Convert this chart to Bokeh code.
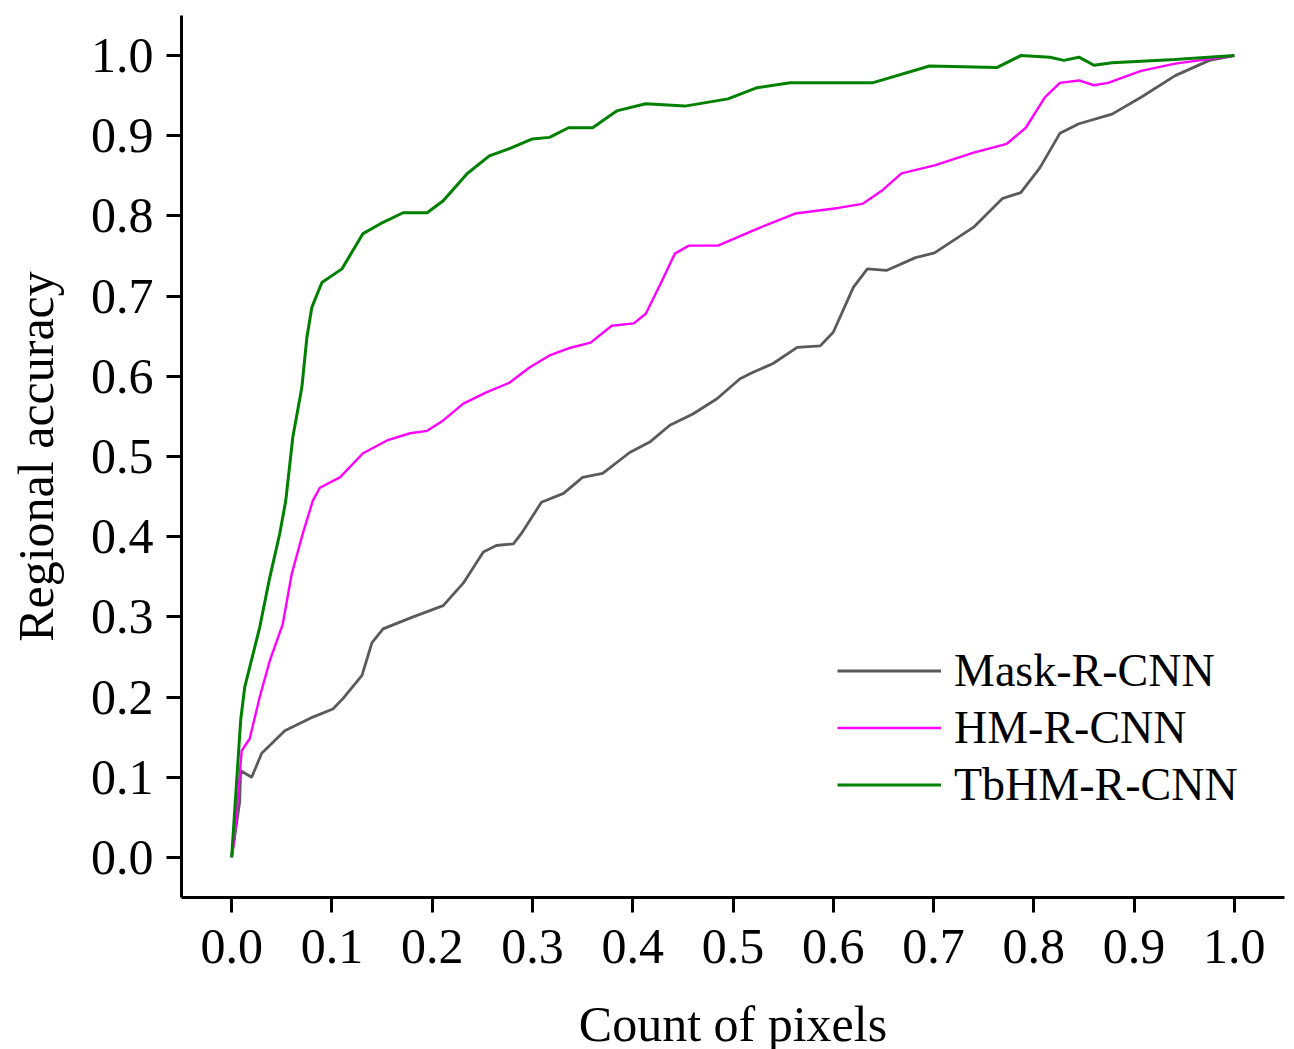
from bokeh.plotting import figure
from bokeh.models import FixedTicker, PrintfTickFormatter, Legend, LegendItem, Range1d
from bokeh.embed import file_html
from bokeh.resources import INLINE

# ---- data ----
tick_values = [0.0, 0.1, 0.2, 0.3, 0.4, 0.5, 0.6, 0.7, 0.8, 0.9, 1.0]

mask_x = [0.0, 0.008, 0.009, 0.02, 0.03, 0.053, 0.081, 0.101, 0.111, 0.13,
          0.14, 0.151, 0.181, 0.211, 0.231, 0.251, 0.264, 0.281, 0.289, 0.309,
          0.331, 0.35, 0.37, 0.397, 0.417, 0.437, 0.46, 0.484, 0.507, 0.52,
          0.54, 0.564, 0.587, 0.6, 0.62, 0.634, 0.653, 0.682, 0.701, 0.74,
          0.769, 0.787, 0.806, 0.826, 0.845, 0.878, 0.907, 0.941, 0.975, 1.0]
mask_y = [0.0, 0.069, 0.108, 0.1, 0.13, 0.158, 0.175, 0.185, 0.198, 0.227,
          0.268, 0.285, 0.3, 0.314, 0.342, 0.381, 0.389, 0.391, 0.404, 0.443,
          0.454, 0.474, 0.479, 0.505, 0.518, 0.539, 0.553, 0.572, 0.597, 0.605,
          0.616, 0.636, 0.638, 0.655, 0.711, 0.734, 0.732, 0.748, 0.754, 0.786,
          0.822, 0.829, 0.86, 0.903, 0.915, 0.927, 0.948, 0.975, 0.994, 1.0]

hm_x = [0.0, 0.003, 0.01, 0.018, 0.028, 0.038, 0.051, 0.06, 0.071, 0.081,
        0.088, 0.108, 0.131, 0.155, 0.178, 0.195, 0.211, 0.231, 0.254, 0.277,
        0.297, 0.317, 0.336, 0.358, 0.379, 0.401, 0.413, 0.428, 0.442, 0.456,
        0.485, 0.524, 0.562, 0.605, 0.629, 0.648, 0.668, 0.701, 0.74, 0.773,
        0.792, 0.811, 0.826, 0.845, 0.86, 0.874, 0.907, 0.941, 1.0]
hm_y = [0.0, 0.025, 0.133, 0.148, 0.2, 0.245, 0.291, 0.354, 0.404, 0.445,
        0.461, 0.474, 0.504, 0.52, 0.529, 0.532, 0.545, 0.566, 0.58, 0.592,
        0.611, 0.626, 0.635, 0.642, 0.663, 0.666, 0.678, 0.716, 0.753, 0.763,
        0.763, 0.784, 0.803, 0.81, 0.815, 0.831, 0.853, 0.863, 0.879, 0.89,
        0.91, 0.948, 0.966, 0.969, 0.963, 0.966, 0.981, 0.99, 1.0]

tb_x = [0.0, 0.009, 0.013, 0.028, 0.038, 0.048, 0.054, 0.061, 0.07, 0.075,
        0.08, 0.09, 0.11, 0.131, 0.148, 0.171, 0.195, 0.211, 0.235, 0.257,
        0.277, 0.3, 0.317, 0.336, 0.36, 0.384, 0.413, 0.452, 0.495, 0.524,
        0.557, 0.639, 0.696, 0.763, 0.787, 0.816, 0.83, 0.845, 0.86, 0.878,
        0.941, 1.0]
tb_y = [0.0, 0.171, 0.212, 0.287, 0.349, 0.404, 0.445, 0.524, 0.586, 0.648,
        0.686, 0.717, 0.734, 0.778, 0.79, 0.804, 0.804, 0.819, 0.853, 0.875,
        0.884, 0.896, 0.898, 0.91, 0.91, 0.931, 0.94, 0.937, 0.946, 0.96,
        0.966, 0.966, 0.987, 0.985, 1.0, 0.998, 0.994, 0.998, 0.988, 0.991,
        0.995, 1.0]

series_names = ["Mask-R-CNN", "HM-R-CNN", "TbHM-R-CNN"]

FONT = "Liberation Serif"

p = figure(frame_width=1103, frame_height=882,
           x_range=Range1d(-0.05, 1.05), y_range=Range1d(-0.05, 1.05),
           output_backend="svg", toolbar_location=None,
           min_border_left=181, min_border_right=1, min_border_top=15,
           min_border_bottom=140)
p.outline_line_color = None
p.xgrid.visible = False
p.ygrid.visible = False

for ax in (p.xaxis[0], p.yaxis[0]):
    ax.ticker = FixedTicker(ticks=tick_values)
    ax.formatter = PrintfTickFormatter(format="%.1f")
    ax.axis_line_width = 3
    ax.axis_line_color = "black"
    ax.major_tick_line_width = 3
    ax.major_tick_line_color = "black"
    ax.major_tick_out = 15
    ax.major_tick_in = 0
    ax.minor_tick_out = 0
    ax.minor_tick_in = 0
    ax.major_label_text_font = FONT
    ax.major_label_text_font_size = "50px"
    ax.major_label_text_color = "black"
    ax.axis_label_text_font = FONT
    ax.axis_label_text_font_size = "50px"
    ax.axis_label_text_font_style = "normal"
    ax.axis_label_text_color = "black"

p.xaxis.axis_label = "Count of pixels"
p.yaxis.axis_label = "Regional accuracy"
p.xaxis.major_label_standoff = 17
p.yaxis.major_label_standoff = 13
p.xaxis.axis_label_standoff = 30
p.yaxis.axis_label_standoff = 24

r1 = p.line(mask_x, mask_y, line_color="#5a5a5a", line_width=2.8)
r2 = p.line(hm_x, hm_y, line_color="#ff00ff", line_width=2.4)
r3 = p.line(tb_x, tb_y, line_color="#008000", line_width=3.0)

legend = Legend(items=[LegendItem(label=series_names[0], renderers=[r1]),
                       LegendItem(label=series_names[1], renderers=[r2]),
                       LegendItem(label=series_names[2], renderers=[r3])],
                location=(656, 84), padding=0, margin=0, spacing=0,
                border_line_color=None, background_fill_alpha=0,
                glyph_width=104, glyph_height=57, label_height=57,
                label_standoff=13, label_text_font=FONT,
                label_text_font_size="46px", label_text_color="black")
p.add_layout(legend)

open("out.html", "w").write(file_html(p, INLINE))
